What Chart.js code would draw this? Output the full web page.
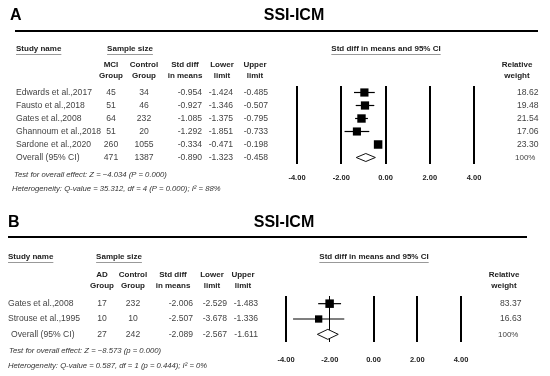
<!DOCTYPE html>
<html>
<head>
<meta charset="utf-8">
<script src="https://cdn.jsdelivr.net/npm/chart.js@4.4.0/dist/chart.umd.min.js"></script>
<style>
  body { margin: 0; background: #fff; }
  #wrap { position: relative; width: 550px; height: 376px; }
  canvas { position: absolute; left: 0; }
</style>
</head>
<body>
<div id="wrap">
  <canvas id="chartA" width="550" height="205" style="top:0"></canvas>
  <canvas id="chartB" width="550" height="171" style="top:205px"></canvas>
</div>
<script>
// Panel A (MCI) - last entry of each array is the overall row
const studiesA = ['Edwards et al.,2017', 'Fausto et al.,2018', 'Gates et al.,2008', 'Ghannoum et al.,2018', 'Sardone et al.,2020', 'Overall (95% CI)'];
const groupA = [45, 51, 64, 51, 260, 471];
const controlA = [34, 46, 232, 20, 1055, 1387];
const smdA = [-0.954, -0.927, -1.085, -1.292, -0.334, -0.890];
const lowerA = [-1.424, -1.346, -1.375, -1.851, -0.471, -1.323];
const upperA = [-0.485, -0.507, -0.795, -0.733, -0.198, -0.458];
const weightA = [18.62, 19.48, 21.54, 17.06, 23.30, 100];
const testA = 'Test for overall effect: Z = \u22124.034 (P = 0.000)';
const hetA = 'Heterogeneity: Q-value = 35.312, df = 4 (P = 0.000); I\u00b2 = 88%';

// Panel B (AD)
const studiesB = ['Gates et al.,2008', 'Strouse et al.,1995', 'Overall (95% CI)'];
const groupB = [17, 10, 27];
const controlB = [232, 10, 242];
const smdB = [-2.006, -2.507, -2.089];
const lowerB = [-2.529, -3.678, -2.567];
const upperB = [-1.483, -1.336, -1.611];
const weightB = [83.37, 16.63, 100];
const testB = 'Test for overall effect: Z = \u22128.573 (p = 0.000)';
const hetB = 'Heterogeneity: Q-value = 0.587, df = 1 (p = 0.444); I\u00b2 = 0%';

const xTicks = [-4, -2, 0, 2, 4];

const FONT = 'Arial, "Liberation Sans", sans-serif';

function tablePlugin(d, L) {
  return {
    id: 'table',
    afterDatasetsDraw(chart) {
      const c = chart.ctx, xs = chart.scales.x, ys = chart.scales.y;
      const k = d.smd.length - 1;
      // pooled diamond
      const yc = ys.getPixelForValue(k);
      c.save();
      c.beginPath();
      c.moveTo(xs.getPixelForValue(d.lower[k]), yc);
      c.lineTo(xs.getPixelForValue(d.smd[k]), yc - L.diamondH);
      c.lineTo(xs.getPixelForValue(d.upper[k]), yc);
      c.lineTo(xs.getPixelForValue(d.smd[k]), yc + L.diamondH);
      c.closePath();
      c.fillStyle = '#fff';
      c.fill();
      c.strokeStyle = '#111';
      c.lineWidth = 1;
      c.stroke();

      const txt = (s, x, y, font, color, align) => {
        c.font = font;
        c.fillStyle = color;
        c.textAlign = align || 'left';
        c.textBaseline = 'middle';
        c.fillText(s, x, y);
      };
      const under = (s, x, y, font, align) => {
        c.font = font;
        const w = c.measureText(s).width;
        const x0 = align === 'center' ? x - w / 2 : x;
        txt(s, x, y, font, '#222', align);
        c.fillStyle = '#999';
        c.fillRect(x0, y + 5, w, 1);
      };

      // title and rule
      txt(L.letter, L.letterX, L.titleY, 'bold 16px ' + FONT, '#000');
      txt('SSI-ICM', L.titleX, L.titleY, 'bold 16px ' + FONT, '#000', 'center');
      c.fillStyle = '#000';
      c.fillRect(L.ruleX0, L.ruleY - 1, L.ruleX1 - L.ruleX0, 2);

      const hf = 'bold 8px ' + FONT;
      under('Study name', L.nameX, L.headY, hf);
      under('Sample size', L.sampleX, L.headY, hf, 'center');
      under('Std diff in means and 95% CI', L.ciX, L.headY, hf, 'center');
      const heads = [[L.groupLabel, 'Group'], ['Control', 'Group'], ['Std diff', 'in means'], ['Lower', 'limit'], ['Upper', 'limit']];
      heads.forEach((h, i) => {
        txt(h[0], L.cols[i], L.col1, hf, '#222', 'center');
        txt(h[1], L.cols[i], L.col2, hf, '#222', 'center');
      });
      txt('Relative', L.weightHeadX, L.col1, hf, '#222', 'center');
      txt('weight', L.weightHeadX, L.col2, hf, '#222', 'center');

      const rf = '8.6px ' + FONT;
      const col = '#444';
      d.names.forEach((name, i) => {
        const y = ys.getPixelForValue(i);
        txt(name, i === k ? L.overallX : L.nameX, y, rf, col);
        txt(String(d.group[i]), L.cols[0], y, rf, col, 'center');
        txt(String(d.control[i]), L.cols[1], y, rf, col, 'center');
        txt(d.smd[i].toFixed(3), L.right[0], y, rf, col, 'right');
        txt(d.lower[i].toFixed(3), L.right[1], y, rf, col, 'right');
        txt(d.upper[i].toFixed(3), L.right[2], y, rf, col, 'right');
        if (i === k) txt(d.weight[i] + '%', L.weightX - 2, y, '8px ' + FONT, col);
        else txt(d.weight[i].toFixed(2), L.weightX, y, rf, col);
      });
      txt(d.test, L.testX, L.testY, 'italic 7.7px ' + FONT, '#333');
      txt(d.het, L.hetX, L.hetY, 'italic 7.7px ' + FONT, '#333');
      c.restore();
    }
  };
}

function makePanel(id, d, L) {
  const n = d.smd.length - 1;
  const maxW = Math.max(...d.weight.slice(0, n));
  const datasets = [{
    type: 'scatter',
    data: d.smd.slice(0, n).map((v, i) => ({ x: v, y: i })),
    pointStyle: 'rect',
    pointRadius: d.weight.slice(0, n).map(w => (7 + 1.5 * w / maxW) / Math.SQRT2),
    backgroundColor: '#000',
    borderWidth: 0
  }];
  for (let i = 0; i < n; i++) {
    datasets.push({
      type: 'line',
      data: [{ x: d.lower[i], y: i }, { x: d.upper[i], y: i }],
      borderColor: '#000',
      borderWidth: 1.2,
      pointRadius: 0
    });
  }
  return new Chart(document.getElementById(id), {
    type: 'line',
    data: { datasets: datasets },
    options: {
      responsive: false,
      animation: false,
      layout: { padding: { left: L.left, right: L.rightPad, top: L.top, bottom: L.bottom } },
      plugins: { legend: { display: false }, tooltip: { enabled: false } },
      scales: {
        x: {
          type: 'linear',
          min: -4,
          max: 4,
          afterBuildTicks: s => { s.ticks = xTicks.map(v => ({ value: v })); },
          afterFit: s => { s.height = 20; },
          border: { display: false },
          grid: {
            color: '#000',
            lineWidth: ctx => (L.thin.includes(ctx.tick && ctx.tick.value) ? 1 : 2),
            drawTicks: false
          },
          ticks: {
            padding: L.tickPad,
            color: '#222',
            font: { family: FONT, size: 7.5, weight: 'bold' },
            callback: v => v.toFixed(2)
          }
        },
        y: { type: 'linear', min: -0.5, max: n + 0.5, reverse: true, display: false }
      }
    },
    plugins: [tablePlugin(d, L)]
  });
}

makePanel('chartA', {
  names: studiesA, group: groupA, control: controlA, smd: smdA,
  lower: lowerA, upper: upperA, weight: weightA, test: testA, het: hetA
}, {
  letter: 'A', letterX: 10, titleX: 294, titleY: 16, ruleY: 31, ruleX0: 15, ruleX1: 538,
  headY: 49, col1: 65, col2: 76, nameX: 16, overallX: 16, sampleX: 130, ciX: 386,
  groupLabel: 'MCI', cols: [111, 144, 185, 222, 255], right: [202, 233, 268],
  weightHeadX: 517, weightX: 517, testX: 14, testY: 175, hetX: 12, hetY: 189,
  left: 297, rightPad: 76, top: 86, bottom: 21, tickPad: 9, diamondH: 4, thin: []
});

makePanel('chartB', {
  names: studiesB, group: groupB, control: controlB, smd: smdB,
  lower: lowerB, upper: upperB, weight: weightB, test: testB, het: hetB
}, {
  letter: 'B', letterX: 8, titleX: 284, titleY: 18, ruleY: 32, ruleX0: 8, ruleX1: 527,
  headY: 52, col1: 70, col2: 81, nameX: 8, overallX: 11, sampleX: 119, ciX: 374,
  groupLabel: 'AD', cols: [102, 133, 173, 212, 243], right: [193, 227, 258],
  weightHeadX: 504, weightX: 500, testX: 9, testY: 146, hetX: 8, hetY: 161,
  left: 286, rightPad: 89, top: 91, bottom: 14, tickPad: 13, diamondH: 5, thin: [-2]
});
</script>
</body>
</html>
